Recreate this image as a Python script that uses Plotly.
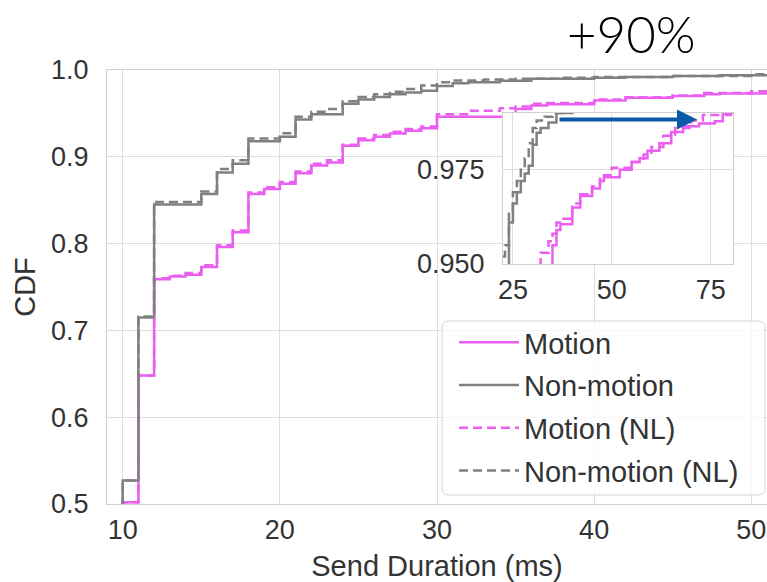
import plotly.graph_objects as go

# ---- CDF step data (send duration in ms, cumulative fraction) ----
motion_x = [9, 10, 11, 12, 13, 14, 15, 16, 17, 18, 19, 20, 21, 22, 23, 24, 25, 26, 27, 28, 29,
            30, 35, 36, 37, 40, 42, 45, 47, 48, 52, 55, 57, 59, 62, 65, 68, 72, 76, 78, 81]
motion_y = [0.0, 0.502, 0.648, 0.759, 0.762, 0.764, 0.773, 0.796, 0.813, 0.857, 0.863, 0.869,
            0.881, 0.890, 0.8935, 0.9126, 0.919, 0.923, 0.9268, 0.930, 0.933,
            0.946, 0.955, 0.959, 0.9605, 0.965, 0.968, 0.970, 0.972, 0.973, 0.975, 0.977,
            0.978, 0.980, 0.982, 0.985, 0.9865, 0.9872, 0.9878, 0.990, 1.0]

nonmotion_x = [9, 10, 11, 12, 15, 16, 17, 18, 20, 21, 22, 24, 25, 26, 27, 28, 29, 30, 31, 32,
               34, 36, 40, 42, 45, 48, 52, 60, 70, 85]
nonmotion_y = [0.0, 0.527, 0.715, 0.845, 0.857, 0.882, 0.892, 0.918, 0.923, 0.943, 0.949,
               0.961, 0.966, 0.969, 0.972, 0.974, 0.976, 0.9816, 0.9848, 0.986, 0.9875,
               0.990, 0.991, 0.992, 0.993, 0.994, 0.995, 0.996, 0.998, 1.0]

motion_nl_x = [9, 10, 11, 12, 13, 14, 15, 16, 17, 18, 19, 20, 21, 22, 23, 24, 25, 26, 27, 28,
               29, 30, 32, 34, 35, 36, 37, 40, 42, 45, 47, 50, 55, 58, 60, 63, 66, 70, 73, 80]
motion_nl_y = [0.0, 0.502, 0.648, 0.760, 0.763, 0.766, 0.775, 0.798, 0.815, 0.859, 0.865,
               0.871, 0.883, 0.892, 0.896, 0.914, 0.921, 0.925, 0.929, 0.932, 0.935,
               0.949, 0.953, 0.956, 0.958, 0.961, 0.962, 0.966, 0.9685, 0.9705, 0.9735,
               0.9755, 0.977, 0.979, 0.981, 0.984, 0.986, 0.988, 0.9895, 1.0]

nonmotion_nl_x = [9, 10, 11, 12, 15, 16, 17, 18, 20, 21, 22, 23, 24, 25, 26, 27, 28, 29, 30,
                  31, 33, 35, 38, 40, 45, 50, 55, 65, 80]
nonmotion_nl_y = [0.0, 0.527, 0.716, 0.848, 0.860, 0.886, 0.896, 0.921, 0.927, 0.946, 0.952,
                  0.955, 0.964, 0.969, 0.972, 0.975, 0.978, 0.982, 0.986, 0.988, 0.989,
                  0.990, 0.991, 0.992, 0.993, 0.995, 0.996, 0.998, 1.0]

series_names = ["Motion", "Non-motion", "Motion (NL)", "Non-motion (NL)"]

main_x_ticks = [10, 20, 30, 40, 50]
main_y_ticks = [0.5, 0.6, 0.7, 0.8, 0.9, 1.0]
inset_x_ticks = [25, 50, 75]
inset_y_ticks = [0.950, 0.975]

# tail comparison highlighted in the zoomed panel
arrow_level = 0.9883
arrow_from = 36.4
arrow_to = 71.5
gain_label = "+90%"

# ---- styling ----
W, H = 767, 582
ML, MR, MT, MB = 107, 0, 70, 78
PINK = "#EA5FF0"
GREY = "#808080"
GRID = "#dddddd"
TXT = "#333333"
FONT = "Liberation Sans, Arial, sans-serif"
LW = 2.5
DASH = "9px,5px"

styles = [
    dict(color=PINK, width=LW, dash="solid"),
    dict(color=GREY, width=LW, dash="solid"),
    dict(color=PINK, width=LW, dash=DASH),
    dict(color=GREY, width=LW, dash=DASH),
]
data = [(motion_x, motion_y), (nonmotion_x, nonmotion_y),
        (motion_nl_x, motion_nl_y), (nonmotion_nl_x, nonmotion_nl_y)]

fig = go.Figure()

for name, (xs, ys), st in zip(series_names, data, styles):
    fig.add_trace(go.Scatter(x=xs, y=ys, mode="lines", line_shape="hv", line=st,
                             name=name, legendgroup=name, xaxis="x", yaxis="y"))

for name, (xs, ys), st in zip(series_names, data, styles):
    fig.add_trace(go.Scatter(x=xs, y=ys, mode="lines", line_shape="hv", line=st,
                             name=name, legendgroup=name, showlegend=False,
                             xaxis="x2", yaxis="y2"))

pw = W - ML - MR
ph = H - MT - MB


def px_x(p):
    return (p - ML) / pw


def px_y(p):
    return (H - MB - p) / ph


axis_common = dict(showgrid=True, gridcolor=GRID, gridwidth=1, zeroline=False,
                   showline=True, mirror=True, linecolor="#d0d0d0", linewidth=1,
                   ticks="outside", tickcolor="rgba(0,0,0,0)",
                   tickfont=dict(family=FONT, size=27, color=TXT))

fig.update_layout(
    width=W, height=H,
    margin=dict(l=ML, r=MR, t=MT, b=MB),
    paper_bgcolor="white", plot_bgcolor="white",
    font=dict(family=FONT, color=TXT),
    xaxis=dict(range=[9, 51], tickvals=main_x_ticks, domain=[0, 1], ticklen=2,
               title=dict(text="Send Duration (ms)", font=dict(size=29, color=TXT), standoff=14),
               **axis_common),
    yaxis=dict(range=[0.5, 1.0], tickvals=main_y_ticks, tickformat=".1f", domain=[0, 1],
               ticklen=12,
               title=dict(text="CDF", font=dict(size=29, color=TXT), standoff=6),
               **axis_common),
    xaxis2=dict(range=[22.5, 80.6], tickvals=inset_x_ticks, anchor="y2", ticklen=2,
                domain=[px_x(503), px_x(733)], **axis_common),
    yaxis2=dict(range=[0.95, 0.99], tickvals=inset_y_ticks, tickformat=".3f", anchor="x2",
                ticklen=12, domain=[px_y(264), px_y(113)], **axis_common),
    showlegend=True,
    legend=dict(x=px_x(454), y=px_y(317), xanchor="left", yanchor="top",
                bgcolor="rgba(0,0,0,0)", borderwidth=0, tracegroupgap=2,
                itemwidth=60, font=dict(family=FONT, size=29, color=TXT)),
)

# rounded legend frame
L, R, T, B, r = 442, 765, 321, 495, 7
x0, x1, y0, y1 = px_x(L), px_x(R), px_y(B), px_y(T)
rx, ry = r / pw, r / ph
path = (f"M{x0 + rx},{y1} L{x1 - rx},{y1} Q{x1},{y1} {x1},{y1 - ry} "
        f"L{x1},{y0 + ry} Q{x1},{y0} {x1 - rx},{y0} L{x0 + rx},{y0} "
        f"Q{x0},{y0} {x0},{y0 + ry} L{x0},{y1 - ry} Q{x0},{y1} {x0 + rx},{y1} Z")
fig.add_shape(type="path", path=path, xref="paper", yref="paper", layer="above",
              fillcolor="rgba(255,255,255,0.8)", line=dict(color="#d5d5d5", width=1))

# arrow marking the tail gap
fig.add_annotation(x=arrow_to, y=arrow_level, xref="x2", yref="y2",
                   ax=arrow_from, ay=arrow_level, axref="x2", ayref="y2",
                   text="", showarrow=True, arrowhead=2, arrowsize=1.0,
                   arrowwidth=4, arrowcolor="#0B5AA6", standoff=0, startstandoff=0)

fig.add_annotation(x=px_x(631), y=px_y(34), xref="paper", yref="paper",
                   text=gain_label, showarrow=False, xanchor="center", yanchor="middle",
                   borderpad=0,
                   font=dict(family="Lato, Liberation Sans, sans-serif", size=51,
                             color="black", weight=300))

fig.write_html("out.html")
